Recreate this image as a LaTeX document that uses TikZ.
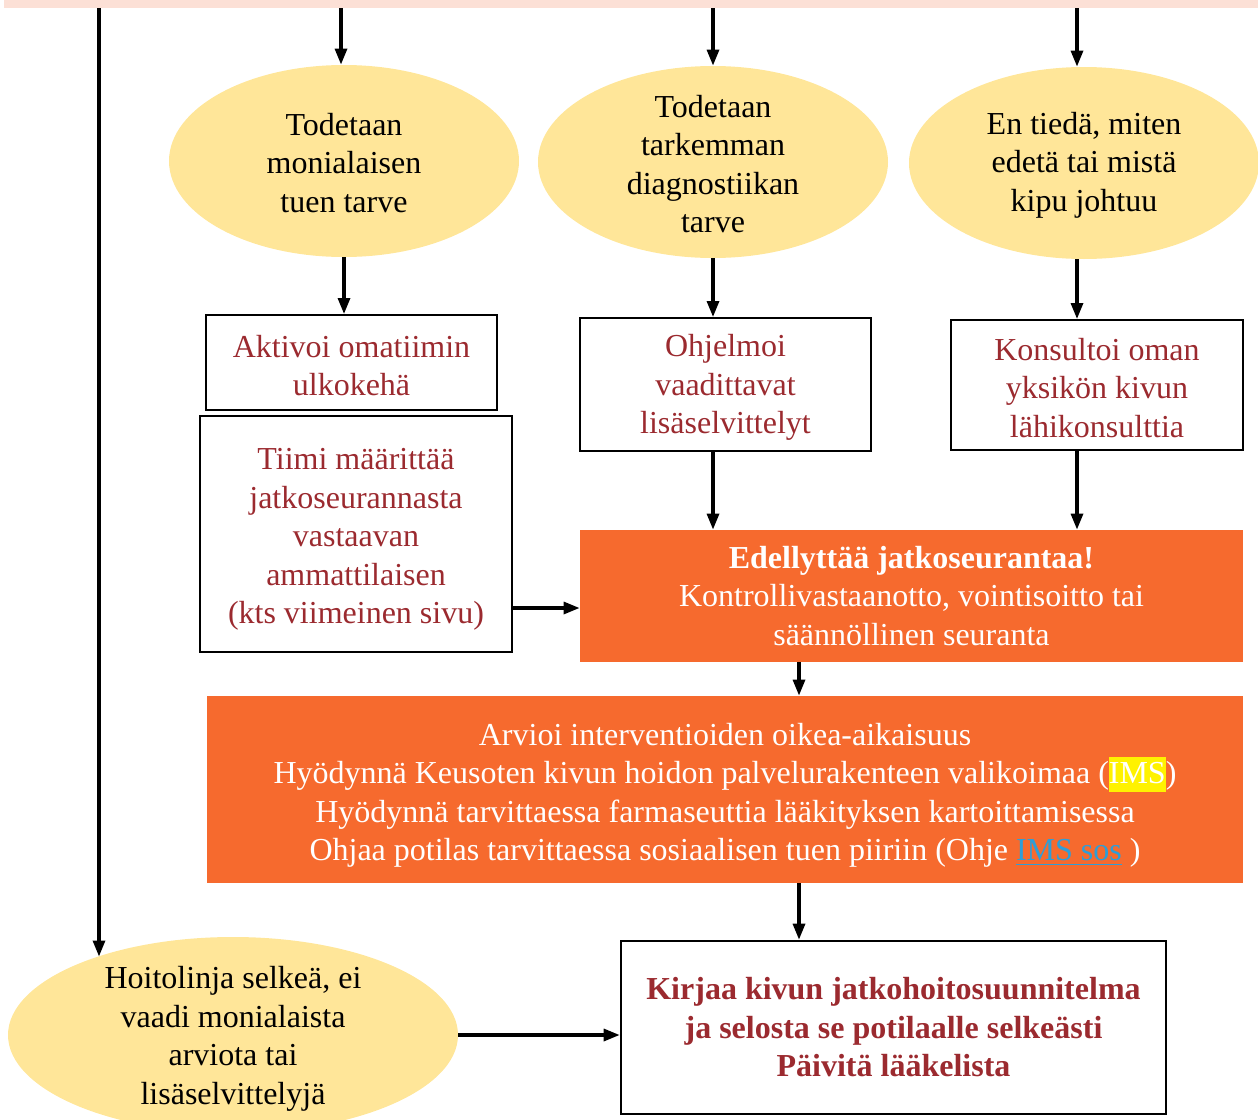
\documentclass[tikz,border=0pt]{standalone}
\usepackage{fontspec}
\setmainfont{Liberation Serif}
\usetikzlibrary{shapes.geometric,arrows.meta}
\definecolor{bandpink}{HTML}{FCE0D6}
\definecolor{ovalyellow}{HTML}{FFE699}
\definecolor{boxorange}{HTML}{F66A2E}
\definecolor{darkred}{HTML}{9B2A2F}
\definecolor{linkblue}{HTML}{2E9ED8}
\setlength{\fboxsep}{0pt}
\begin{document}
\begin{tikzpicture}[x=0.5pt, y=-0.5pt]
	% Styles
	\tikzstyle{txt}=[align=center, inner sep=0pt, font=\fontsize{16}{19.25}\selectfont]
	\tikzstyle{oval}=[ellipse, fill=ovalyellow, minimum width=175pt, minimum height=96pt, inner sep=0pt]
	\tikzstyle{redbox}=[txt, draw=black, line width=1pt, text=darkred]
	\tikzstyle{orangebox}=[txt, fill=boxorange, text=white]
	\tikzstyle{arrow}=[draw, line width=1.6pt, -{Triangle[length=8pt,width=6pt]}]

	\useasboundingbox (0,0) rectangle (1258,1119);

	% Band at the top
	\node[fill=bandpink, minimum width=627pt, minimum height=4pt, inner sep=0pt] (band) at (631,4) {};
	\foreach \name/\x in {c0/99, c1/341, c2/713, c3/1077, c4/799}
	\coordinate (\name) at (\x,8);

	% Ellipses
	\foreach \name/\x/\y in {e1/344/161, e2/713/162, e3/1084/163}
	\node[oval] (\name) at (\x,\y) {};
	\node[oval, minimum width=225pt, minimum height=98pt] (hoito) at (233,1035) {};

	\node[txt] (e1t) at ([yshift=-1pt]e1) {Todetaan\\monialaisen\\tuen tarve};
	\node[txt] (e2t) at ([yshift=-1pt]e2) {Todetaan\\tarkemman\\diagnostiikan\\tarve};
	\node[txt] (e3t) at ([yshift=-1pt]e3) {En tiedä, miten\\edetä tai mistä\\kipu johtuu};
	\node[txt] (hoitot) at ([yshift=-2pt]hoito) {Hoitolinja selkeä, ei\\vaadi monialaista\\arviota tai\\lisäselvittelyjä};

	% Boxes
	\node[redbox, minimum width=145.5pt, minimum height=47.5pt] (b1) at (351.5,362.5) {\rule{0pt}{14pt}Aktivoi omatiimin\\ulkokehä};
	\node[redbox, minimum width=156pt, minimum height=118pt] (b2) at (356,534) {\rule{0pt}{16pt}Tiimi määrittää\\jatkoseurannasta\\vastaavan\\ammattilaisen\\(kts viimeinen sivu)};
	\node[redbox, minimum width=145.5pt, minimum height=66.5pt] (b3) at (725.5,384.5) {\rule{0pt}{14pt}Ohjelmoi\\vaadittavat\\lisäselvittelyt};
	\node[redbox, minimum width=146pt, minimum height=65pt] (b4) at (1097,385) {\rule{0pt}{14pt}Konsultoi oman\\yksikön kivun\\lähikonsulttia};

	% Orange boxes
	\node[orangebox, minimum width=331.5pt, minimum height=66pt] (o1) at (911.5,596)
	{\textbf{Edellyttää jatkoseurantaa!}\\Kontrollivastaanotto, vointisoitto tai\\säännöllinen seuranta};
	\node[orangebox, minimum width=518pt, minimum height=93.5pt] (o2) at (725,789.5)
	{\rule{0pt}{17pt}Arvioi interventioiden oikea-aikaisuus\\
	Hyödynnä Keusoten kivun hoidon palvelurakenteen valikoimaa (\colorbox{yellow}{\rule[-4pt]{0pt}{17.5pt}IMS})\\
	Hyödynnä tarvittaessa farmaseuttia lääkityksen kartoittamisessa\\
	Ohjaa potilas tarvittaessa sosiaalisen tuen piiriin (Ohje \textcolor{linkblue}{\underline{IMS sos}} )};

	% Final box
	\node[redbox, line width=1.3pt, font=\fontsize{16}{19.25}\selectfont\bfseries, minimum width=272.5pt, minimum height=86.5pt] (f) at (893.5,1027.5)
	{Kirjaa kivun jatkohoitosuunnitelma\\ja selosta se potilaalle selkeästi\\Päivitä lääkelista};

	% Connect band to ellipses
	\path[arrow] (c0) -- (c0 |- hoito.150);
	\path[arrow] (c1) -- (c1 |- e1.north);
	\path[arrow] (c2) -- (c2 |- e2.north);
	\path[arrow] (c3) -- (c3 |- e3.north);

	% Connect ellipses to boxes
	\path[arrow] (e1.south) -- (e1.south |- b1.north);
	\path[arrow] (e2.south) -- (e2.south |- b3.north);
	\path[arrow] (c3 |- e3.south) -- (c3 |- b4.north);

	% Connect boxes to orange boxes
	\path[arrow] (e2.south |- b3.south) -- (e2.south |- o1.north);
	\path[arrow] (c3 |- b4.south) -- (c3 |- o1.north);
	\path[arrow] ([yshift=-6pt]o1.west -| b2.east) -- ([yshift=-6pt]o1.west);
	\path[arrow] (c4 |- o1.south) -- (c4 |- o2.north);
	\path[arrow] (c4 |- o2.south) -- (c4 |- f.north);
	\path[arrow] (hoito.east) -- (hoito.east -| f.west);
\end{tikzpicture}
\end{document}
